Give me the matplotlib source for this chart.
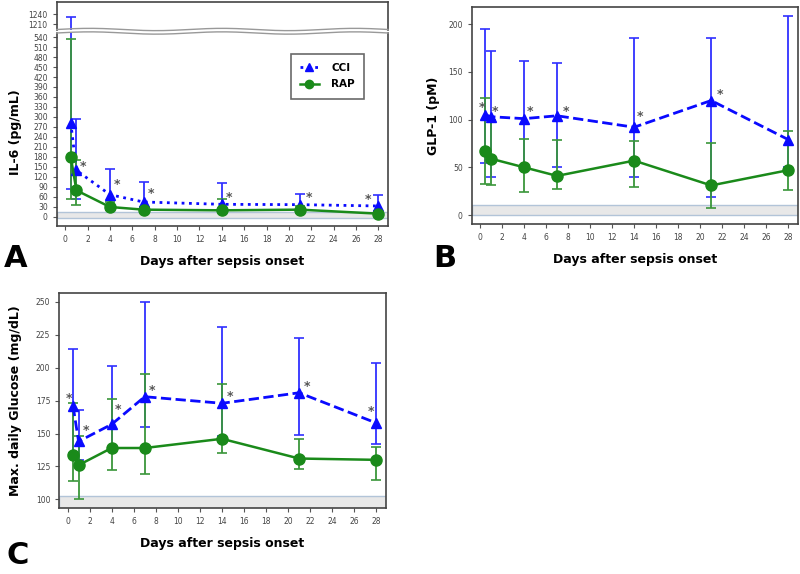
import numpy as np
import matplotlib
matplotlib.use("Agg")
import matplotlib.pyplot as plt
from matplotlib.lines import Line2D

# data
days = [0.5, 1, 4, 7, 14, 21, 28]

# A: IL-6 (pg/mL)
il6_cci = [283, 140, 67, 45, 38, 37, 33]
il6_cci_lo = [85, 54, 35, 25, 20, 20, 18]
il6_cci_hi = [1233, 295, 143, 105, 103, 69, 67]
il6_rap = [180, 80, 30, 22, 20, 22, 10]
il6_rap_lo = [55, 37, 20, 15, 12, 12, 5]
il6_rap_hi = [533, 171, 45, 30, 55, 32, 15]
il6_star_x = [1.6, 4.65, 7.65, 14.6, 21.8, 27.1]
il6_star_y = [150, 98, 70, 58, 58, 53]

# B: GLP-1 (pM)
glp_cci = [105, 103, 101, 104, 92, 120, 79]
glp_cci_lo = [55, 40, 47, 50, 40, 19, 50]
glp_cci_hi = [195, 172, 161, 159, 186, 185, 209]
glp_rap = [67, 59, 50, 41, 57, 31, 47]
glp_rap_lo = [33, 31, 24, 27, 29, 7, 26]
glp_rap_hi = [123, 100, 80, 79, 78, 75, 88]
glp_star_x = [0.2, 1.4, 4.5, 7.8, 14.5, 21.8]
glp_star_y = [113, 109, 109, 109, 103, 126]

# C: max daily glucose (mg/dL)
glu_cci = [171, 144, 157, 178, 173, 181, 158]
glu_cci_lo = [135, 130, 140, 155, 148, 149, 142]
glu_cci_hi = [214, 168, 201, 250, 231, 223, 204]
glu_rap = [134, 126, 139, 139, 146, 131, 130]
glu_rap_lo = [114, 100, 122, 119, 135, 123, 115]
glu_rap_hi = [173, 148, 176, 195, 188, 146, 140]
glu_star_x = [0.1, 1.7, 4.6, 7.7, 14.7, 21.7, 27.5]
glu_star_y = [177, 152, 168, 183, 178, 186, 167]

BLUE = "#0a0aff"
BLUE_BAR = "#3030ff"
GREEN = "#1a8a1a"
GREEN_BAR = "#3a963a"
STAR = "#555555"
SPINE = "#444444"
TICK = "#555555"

fig = plt.figure(figsize=(8, 5.74), dpi=100)


def style_axes(ax):
    for s in ax.spines.values():
        s.set_color(SPINE)
        s.set_linewidth(1.2)
    ax.tick_params(labelsize=5.5, colors=TICK, length=3, width=0.8, labelcolor="#444444")


def draw_series(ax, mean, lo, hi, rap, rap_lo, rap_hi, cci_ls):
    m = np.array(mean)
    ax.errorbar(days, m, yerr=[m - np.array(lo), np.array(hi) - m], fmt="none",
                ecolor=BLUE_BAR, elinewidth=1.3, capsize=3.5, capthick=1.2, zorder=2)
    ax.plot(days, m, ls=cci_ls, color=BLUE, lw=2, marker="^", ms=7.5, zorder=4)
    r = np.array(rap)
    ax.errorbar(days, r, yerr=[r - np.array(rap_lo), np.array(rap_hi) - r], fmt="none",
                ecolor=GREEN_BAR, elinewidth=1.3, capsize=3.5, capthick=1.2, zorder=3)
    ax.plot(days, r, ls="-", color=GREEN, lw=1.8, marker="o", ms=8, zorder=5)


def ref_band(ax, lo, hi):
    ax.axhspan(lo, hi, facecolor="#e8e8e8", edgecolor="#b2c4d8", lw=1, zorder=1)


def x_axis(ax):
    ax.set_xlim(-0.75, 28.85)
    ax.set_xticks(range(0, 29, 2))


# ---- Panel A (broken y axis) ----
axA_top = fig.add_axes([0.071, 0.9477, 0.414, 0.0488])
axA = fig.add_axes([0.071, 0.6063, 0.414, 0.3362])
for ax in (axA_top, axA):
    style_axes(ax)
    ref_band(ax, -3, 15)
    draw_series(ax, il6_cci, il6_cci_lo, il6_cci_hi, il6_rap, il6_rap_lo, il6_rap_hi, ":")
    x_axis(ax)
axA_top.set_ylim(1193, 1277)
axA_top.set_yticks([1210, 1240])
axA_top.spines["bottom"].set_visible(False)
axA_top.tick_params(axis="x", bottom=False, labelbottom=False)
axA.set_ylim(-27, 552)
axA.set_yticks(range(0, 541, 30))
axA.spines["top"].set_visible(False)
for x, y in zip(il6_star_x, il6_star_y):
    axA.text(x, y, "*", fontsize=9, color=STAR, ha="center", va="center", fontweight="bold")
axA.set_xlabel("Days after sepsis onset", fontsize=9, fontweight="bold", labelpad=8)
fig.text(0.02, 0.77, "IL-6 (pg/mL)", rotation=90, fontsize=9, fontweight="bold", ha="center", va="center")

# wavy break between the two parts
wx = np.linspace(0.071, 0.485, 200)
wave = 0.002 * np.sin((wx - 0.071) / 0.414 * 2 * np.pi * 2.5)
for y0 in (1 - 29.5 / 574, 1 - 33 / 574):
    fig.add_artist(Line2D(wx, y0 + wave, color="#999999", lw=1))

leg_handles = [
    Line2D([], [], ls=":", color=BLUE, lw=2, marker="^", ms=6),
    Line2D([], [], ls="-", color=GREEN, lw=1.8, marker="o", ms=6),
]
leg = axA.legend(leg_handles, ["CCI", "RAP"], loc="upper left", bbox_to_anchor=(0.69, 0.92),
                 frameon=True, fancybox=False, edgecolor="#444444", fontsize=7.5,
                 handlelength=1.8, borderpad=0.9, labelspacing=0.6, handletextpad=1.2)
for t in leg.get_texts():
    t.set_fontweight("bold")
leg.get_frame().set_linewidth(1.2)

# ---- Panel B ----
axB = fig.add_axes([0.5896, 0.6098, 0.4075, 0.378])
style_axes(axB)
ref_band(axB, 0, 10)
draw_series(axB, glp_cci, glp_cci_lo, glp_cci_hi, glp_rap, glp_rap_lo, glp_rap_hi, "--")
x_axis(axB)
axB.set_ylim(-9.4, 218)
axB.set_yticks([0, 50, 100, 150, 200])
for x, y in zip(glp_star_x, glp_star_y):
    axB.text(x, y, "*", fontsize=9, color=STAR, ha="center", va="center", fontweight="bold")
axB.set_xlabel("Days after sepsis onset", fontsize=9, fontweight="bold", labelpad=8)
axB.set_ylabel("GLP-1 (pM)", fontsize=9, fontweight="bold", labelpad=6)

# ---- Panel C ----
axC = fig.add_axes([0.0741, 0.115, 0.408, 0.374])
style_axes(axC)
ref_band(axC, 90, 102.5)
draw_series(axC, glu_cci, glu_cci_lo, glu_cci_hi, glu_rap, glu_rap_lo, glu_rap_hi, "--")
x_axis(axC)
axC.set_ylim(93.4, 256.6)
axC.set_yticks([100, 125, 150, 175, 200, 225, 250])
for x, y in zip(glu_star_x, glu_star_y):
    axC.text(x, y, "*", fontsize=9, color=STAR, ha="center", va="center", fontweight="bold")
axC.set_xlabel("Days after sepsis onset", fontsize=9, fontweight="bold", labelpad=8)
axC.set_ylabel("Max. daily Glucose (mg/dL)", fontsize=9, fontweight="bold", labelpad=10)

# panel letters
fig.text(0.005, 0.535, "A", fontsize=22, fontweight="bold")
fig.text(0.541, 0.535, "B", fontsize=22, fontweight="bold")
fig.text(0.008, 0.018, "C", fontsize=22, fontweight="bold")

fig.savefig("out.png", dpi=100)
